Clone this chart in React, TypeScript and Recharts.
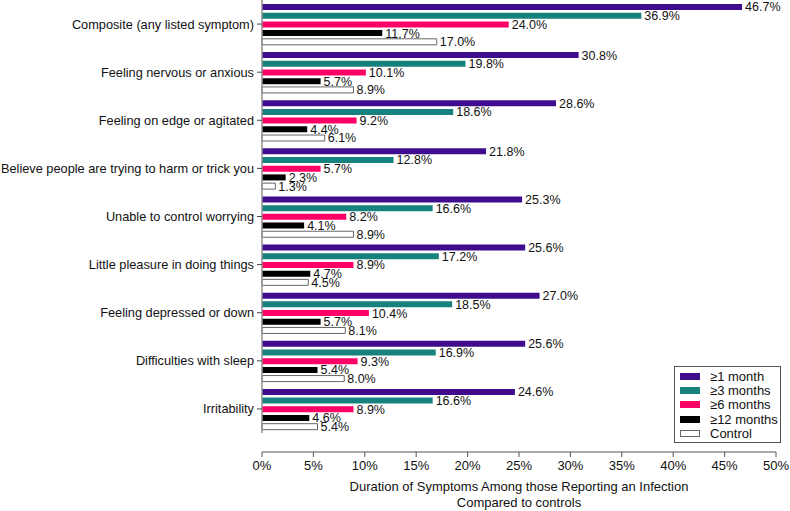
import React from "react";
import {
  BarChart,
  Bar,
  XAxis,
  YAxis,
  LabelList,
} from "recharts";

const categories = [
  "Composite (any listed symptom)",
  "Feeling nervous or anxious",
  "Feeling on edge or agitated",
  "Believe people are trying to harm or trick you",
  "Unable to control worrying",
  "Little pleasure in doing things",
  "Feeling depressed or down",
  "Difficulties with sleep",
  "Irritability",
];

const oneMonth = [46.7, 30.8, 28.6, 21.8, 25.3, 25.6, 27.0, 25.6, 24.6];
const threeMonths = [36.9, 19.8, 18.6, 12.8, 16.6, 17.2, 18.5, 16.9, 16.6];
const sixMonths = [24.0, 10.1, 9.2, 5.7, 8.2, 8.9, 10.4, 9.3, 8.9];
const twelveMonths = [11.7, 5.7, 4.4, 2.3, 4.1, 4.7, 5.7, 5.4, 4.6];
const control = [17.0, 8.9, 6.1, 1.3, 8.9, 4.5, 8.1, 8.0, 5.4];

const xTicks = [0, 5, 10, 15, 20, 25, 30, 35, 40, 45, 50];

const series = [
  { key: "m1", name: "≥1 month", fill: "#3f0c8e", stroke: "none" },
  { key: "m3", name: "≥3 months", fill: "#17817e", stroke: "none" },
  { key: "m6", name: "≥6 months", fill: "#ff0066", stroke: "none" },
  { key: "m12", name: "≥12 months", fill: "#000000", stroke: "none" },
  { key: "ctrl", name: "Control", fill: "#ffffff", stroke: "#666666" },
];

const data = categories.map((name, i) => ({
  name,
  m1: oneMonth[i],
  m3: threeMonths[i],
  m6: sixMonths[i],
  m12: twelveMonths[i],
  ctrl: control[i],
}));

const W = 790;
const H = 511;
const X_AXIS_H = 59;
const Y_AXIS_W = 262;
const Y_PAD_BOTTOM = 19;
const TICK = 5;
const TICK_GAP = 3;
const BAND = (H - X_AXIS_H - Y_PAD_BOTTOM) / categories.length;
const FONT = "'Liberation Sans', Arial, sans-serif";

// category tick: label + tick mark + the piece of axis line for this band
function CategoryTick(props: any) {
  const { x, y, payload } = props;
  const axisX = x + TICK + TICK_GAP;
  return (
    <g>
      <line x1={axisX} x2={axisX} y1={y - BAND / 2} y2={y + BAND / 2} stroke="#8f8f8f" strokeWidth={1.5} />
      <line x1={axisX - TICK} x2={axisX} y1={y} y2={y} stroke="#444" />
      <text x={x} y={y} dy="0.35em" textAnchor="end" fontSize={12.75} fill="#111" fontFamily={FONT}>
        {payload.value}
      </text>
    </g>
  );
}

function AxisTitle(props: any) {
  const { viewBox } = props;
  const cx = viewBox.x + viewBox.width / 2;
  return (
    <text x={cx} y={viewBox.y + 39} textAnchor="middle" fontSize={13} fill="#111" fontFamily={FONT}>
      <tspan x={cx}>Duration of Symptoms Among those Reporting an Infection</tspan>
      <tspan x={cx} dy={16}>Compared to controls</tspan>
    </text>
  );
}

function LegendBox() {
  return (
    <div
      style={{
        position: "absolute",
        left: 674,
        top: 366,
        width: 107,
        border: "1px solid #555",
        background: "#fff",
        padding: "2px 0 1px 5px",
        fontFamily: FONT,
        fontSize: 13,
        color: "#111",
        boxSizing: "border-box",
      }}
    >
      {series.map((s) => (
        <div key={s.key} style={{ display: "flex", alignItems: "center", height: 14.4 }}>
          <span
            style={{
              display: "inline-block",
              width: 20,
              height: 7,
              background: s.fill,
              border: s.stroke === "none" ? "none" : `1px solid ${s.stroke}`,
              boxSizing: "border-box",
              marginRight: 10,
            }}
          />
          <span>{s.name}</span>
        </div>
      ))}
    </div>
  );
}

export default function App() {
  return (
    <div style={{ position: "absolute", left: 0, top: 0, width: W, height: H, background: "#fff" }}>
      <BarChart
        width={W}
        height={H}
        data={data}
        layout="vertical"
        margin={{ top: 0, right: 14, bottom: 0, left: 0 }}
        barSize={6}
        barGap={2.7}
      >
        <XAxis
          type="number"
          domain={[0, 50]}
          ticks={xTicks}
          tickFormatter={(v) => `${v}%`}
          height={X_AXIS_H}
          tickSize={TICK}
          tickMargin={4}
          stroke="#555"
          tick={{ fontSize: 13, fill: "#111", fontFamily: FONT }}
          label={{ content: AxisTitle }}
        />
        <YAxis
          type="category"
          dataKey="name"
          width={Y_AXIS_W}
          axisLine={false}
          tickLine={false}
          tickSize={TICK}
          tickMargin={TICK_GAP}
          padding={{ top: 0, bottom: Y_PAD_BOTTOM }}
          interval={0}
          tick={<CategoryTick />}
        />
        {series.map((s) => (
          <Bar
            key={s.key}
            dataKey={s.key}
            name={s.name}
            fill={s.fill}
            stroke={s.stroke}
            strokeWidth={s.stroke === "none" ? 0 : 1}
            isAnimationActive={false}
          >
            <LabelList
              dataKey={s.key}
              position="right"
              offset={3}
              formatter={(v: any) => `${Number(v).toFixed(1)}%`}
              style={{ fontSize: 12.5, fill: "#111", fontFamily: FONT }}
            />
          </Bar>
        ))}
      </BarChart>
      <LegendBox />
    </div>
  );
}
